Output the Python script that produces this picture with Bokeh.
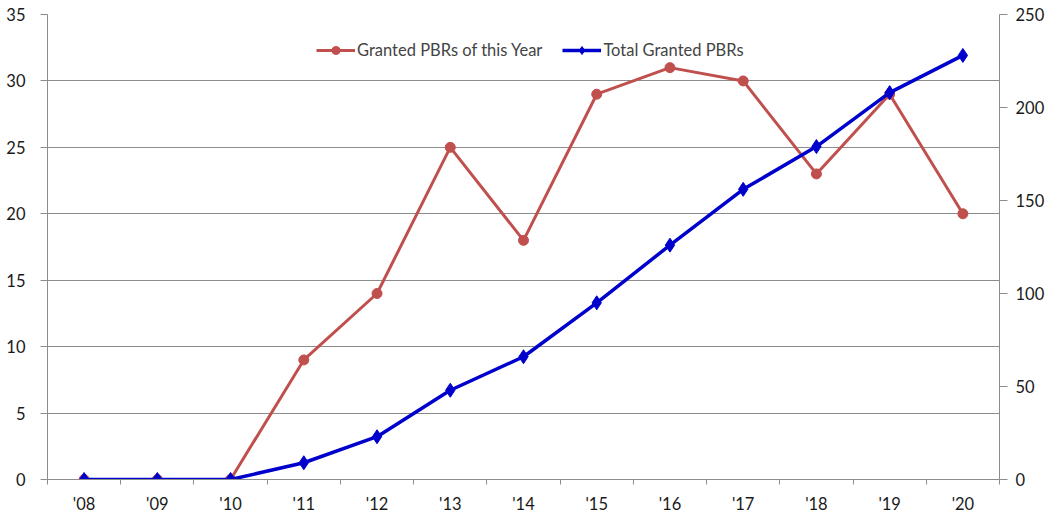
from bokeh.plotting import figure
from bokeh.models import Range1d, LinearAxis, FixedTicker, Legend, LegendItem
from bokeh.embed import file_html
from bokeh.resources import INLINE

years = ["'08", "'09", "'10", "'11", "'12", "'13", "'14", "'15", "'16", "'17", "'18", "'19", "'20"]
granted_year = [0, 0, 0, 9, 14, 25, 18, 29, 31, 30, 23, 29, 20]
granted_total = [0, 0, 0, 9, 23, 48, 66, 95, 126, 156, 179, 208, 228]
left_ticks = [0, 5, 10, 15, 20, 25, 30, 35]
right_ticks = [0, 50, 100, 150, 200, 250]

FONT = "Lato"
FS = "16.5px"
AX = "#8c8c8c"
RED = "#C0504D"
BLUE = "#0000CC"

xs = list(range(len(years)))

p = figure(width=1047, height=516, output_backend="svg", toolbar_location=None,
           x_range=Range1d(-0.5, len(years) - 0.5), y_range=Range1d(0, 35),
           min_border_left=47, min_border_right=45, min_border_top=14, min_border_bottom=35)
p.extra_y_ranges = {"right": Range1d(0, 250)}
p.outline_line_color = None
p.background_fill_color = "white"
p.border_fill_color = "white"

# x axis
xt = FixedTicker(ticks=xs, minor_ticks=[i - 0.5 for i in range(len(years) + 1)])
p.xaxis.ticker = xt
p.xaxis.major_label_overrides = {i: y for i, y in enumerate(years)}
p.xaxis.major_tick_out = 0
p.xaxis.major_tick_in = 0
p.xaxis.minor_tick_out = 5
p.xaxis.minor_tick_in = 0
p.xaxis.minor_tick_line_color = AX
p.xaxis.axis_line_color = AX
p.xaxis.major_label_standoff = 9
p.xgrid.grid_line_color = None

# left axis
p.yaxis.ticker = FixedTicker(ticks=left_ticks)
p.yaxis.major_tick_out = 7
p.yaxis.major_tick_in = 0
p.yaxis.minor_tick_line_color = None
p.yaxis.axis_line_color = AX
p.yaxis.major_tick_line_color = AX
p.yaxis.major_label_standoff = 15
p.ygrid.ticker = FixedTicker(ticks=left_ticks)
p.ygrid.grid_line_color = AX
p.ygrid.grid_line_width = 1

# right axis
ra = LinearAxis(y_range_name="right", ticker=FixedTicker(ticks=right_ticks))
ra.major_tick_out = 8
ra.major_tick_in = 0
ra.minor_tick_line_color = None
ra.axis_line_color = AX
ra.major_tick_line_color = AX
ra.major_label_standoff = 8
p.add_layout(ra, "right")

for ax in [p.xaxis[0], p.yaxis[0], ra]:
    ax.major_label_text_font = FONT
    ax.major_label_text_font_size = FS
    ax.major_label_text_color = "#1a1a1a"

r1 = p.line(xs, granted_year, line_color=RED, line_width=3)
r1m = p.scatter(xs, granted_year, marker="circle", size=10, fill_color=RED, line_color=RED)
r2 = p.line(xs, granted_total, line_color=BLUE, line_width=3.5, y_range_name="right")
r2m = p.scatter(xs, granted_total, marker="diamond", size=14, fill_color=BLUE, line_color=BLUE, y_range_name="right")

legend = Legend(items=[LegendItem(label="Granted PBRs of this Year", renderers=[r1, r1m]),
                       LegendItem(label="Total Granted PBRs", renderers=[r2, r2m])],
                orientation="horizontal", location=(269, 419),
                border_line_color=None, background_fill_alpha=0,
                label_text_font=FONT, label_text_font_size=FS,
                glyph_width=39, label_standoff=2, spacing=20, margin=0, padding=0)
p.add_layout(legend)

open("out.html", "w").write(file_html(p, INLINE))
